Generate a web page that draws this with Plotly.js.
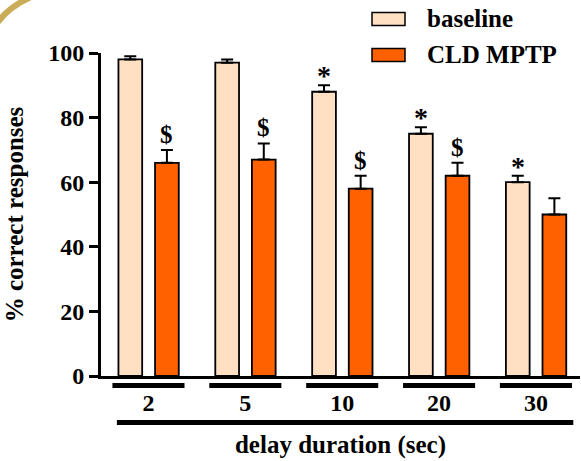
<!DOCTYPE html>
<html>
<head>
<meta charset="utf-8">
<script src="https://cdn.plot.ly/plotly-3.0.1.min.js"></script>
<style>
  html, body { margin: 0; padding: 0; background: #fff; }
  #chart { width: 581px; height: 461px; }
</style>
</head>
<body>
<div id="chart"></div>
<script>
// ---- data ----
const categories = ['2', '5', '10', '20', '30'];
const baselineValues = [98, 97, 88, 75, 60];
const baselineErrors = [1, 1, 2, 2, 2];
const cldValues = [66, 67, 58, 62, 50];
const cldErrors = [4, 5, 4, 4, 5];
const baselineMarks = ['', '', '*', '*', '*'];
const cldMarks = ['$', '$', '$', '$', ''];
const seriesNames = ['baseline', 'CLD MPTP'];
const yTicks = [0, 20, 40, 60, 80, 100];

// ---- style / geometry ----
const FONT = 'Liberation Serif';
const BASE_COLOR = '#FFE0C2';
const CLD_COLOR = '#FF6100';
const W = 581, H = 461;
const M = { l: 101, r: 1, t: 53, b: 85 };
const PW = W - M.l - M.r, PH = H - M.t - M.b;
const px2x = p => (p - M.l) / PW;
const py2y = p => (H - M.b - p) / PH;

const BAR_W = 0.245;
const OFF_BASE = -0.31;
const OFF_CLD = 0.068;
const xIdx = categories.map((c, i) => i);
const zeros = categories.map(() => 0);

const traces = [
  {
    type: 'bar', name: seriesNames[0], x: xIdx, y: baselineValues,
    width: BAR_W, offset: OFF_BASE,
    marker: { color: BASE_COLOR, line: { color: '#000', width: 1.8 } },
    error_y: { type: 'data', symmetric: false, array: baselineErrors, arrayminus: zeros,
               color: '#000', thickness: 2, width: 6 },
    showlegend: false, hoverinfo: 'y'
  },
  {
    type: 'bar', name: seriesNames[1], x: xIdx, y: cldValues,
    width: BAR_W, offset: OFF_CLD,
    marker: { color: CLD_COLOR, line: { color: '#000', width: 1.8 } },
    error_y: { type: 'data', symmetric: false, array: cldErrors, arrayminus: zeros,
               color: '#000', thickness: 2, width: 6 },
    showlegend: false, hoverinfo: 'y'
  }
];

const annotations = [];
xIdx.forEach(i => {
  if (baselineMarks[i]) annotations.push({
    x: i + OFF_BASE + BAR_W / 2, y: baselineValues[i] + baselineErrors[i],
    xref: 'x', yref: 'y', text: baselineMarks[i], showarrow: false,
    yanchor: 'bottom', yshift: -8, font: { size: 28, family: FONT, color: '#000', weight: 'bold' }
  });
  if (cldMarks[i]) annotations.push({
    x: i + OFF_CLD + BAR_W / 2, y: cldValues[i] + cldErrors[i],
    xref: 'x', yref: 'y', text: cldMarks[i], showarrow: false,
    yanchor: 'bottom', yshift: 0, font: { size: 25, family: FONT, color: '#000', weight: 'bold' }
  });
});

// custom legend
const legendBoxes = [[12.5, 25.5], [48.5, 61.5]];
const legendColors = [BASE_COLOR, CLD_COLOR];
const shapes = [];
seriesNames.forEach((n, k) => {
  shapes.push({
    type: 'rect', xref: 'paper', yref: 'paper',
    x0: px2x(372), x1: px2x(405), y0: py2y(legendBoxes[k][1]), y1: py2y(legendBoxes[k][0]),
    fillcolor: legendColors[k], line: { color: '#000', width: 1.5 }
  });
  annotations.push({
    xref: 'paper', yref: 'paper', x: px2x(425), y: py2y((legendBoxes[k][0] + legendBoxes[k][1]) / 2),
    xanchor: 'left', yanchor: 'middle', text: n, showarrow: false,
    font: { size: 25, family: FONT, color: '#000', weight: 'bold' }
  });
});

// group underlines and long line
xIdx.forEach(i => {
  shapes.push({
    type: 'line', xref: 'x', yref: 'paper', x0: i - 0.372, x1: i + 0.372,
    y0: py2y(385.5), y1: py2y(385.5), line: { color: '#000', width: 5 }
  });
});
shapes.push({
  type: 'line', xref: 'x', yref: 'paper', x0: -0.326, x1: xIdx[xIdx.length - 1] + 0.386,
  y0: py2y(422.5), y1: py2y(422.5), line: { color: '#000', width: 5 }
});

// decorative gold arc in top-left corner
shapes.push({
  type: 'path', xref: 'paper', yref: 'paper',
  path: `M ${px2x(-6)},${py2y(28)} Q ${px2x(7)},${py2y(6)} ${px2x(36)},${py2y(-5)}`,
  line: { color: '#C9AB58', width: 6 }
});

const layout = {
  width: W, height: H,
  margin: M,
  paper_bgcolor: '#fff', plot_bgcolor: '#fff',
  font: { family: FONT, size: 24, color: '#000', weight: 'bold' },
  barmode: 'group',
  xaxis: {
    range: [-0.49, 4.455], tickvals: xIdx, ticktext: categories,
    ticks: '', showline: true, linecolor: '#000', linewidth: 2.5,
    showgrid: false, zeroline: false, ticklabelstandoff: 4,
    tickfont: { size: 24, family: FONT, weight: 'bold' },
    title: { text: 'delay duration (sec)', standoff: 20, font: { size: 25, family: FONT, weight: 'bold' } },
    fixedrange: true
  },
  yaxis: {
    range: [0, 100], tickvals: yTicks, ticks: 'outside', ticklen: 9, tickwidth: 3,
    tickcolor: '#000', showline: true, linecolor: '#000', linewidth: 3,
    showgrid: false, zeroline: false,
    tickfont: { size: 24, family: FONT, weight: 'bold' },
    title: { text: '% correct responses', standoff: 18, font: { size: 25, family: FONT, weight: 'bold' } },
    fixedrange: true
  },
  shapes: shapes,
  annotations: annotations,
  showlegend: false
};

Plotly.newPlot('chart', traces, layout, { staticPlot: true, displayModeBar: false });
</script>
</body>
</html>
